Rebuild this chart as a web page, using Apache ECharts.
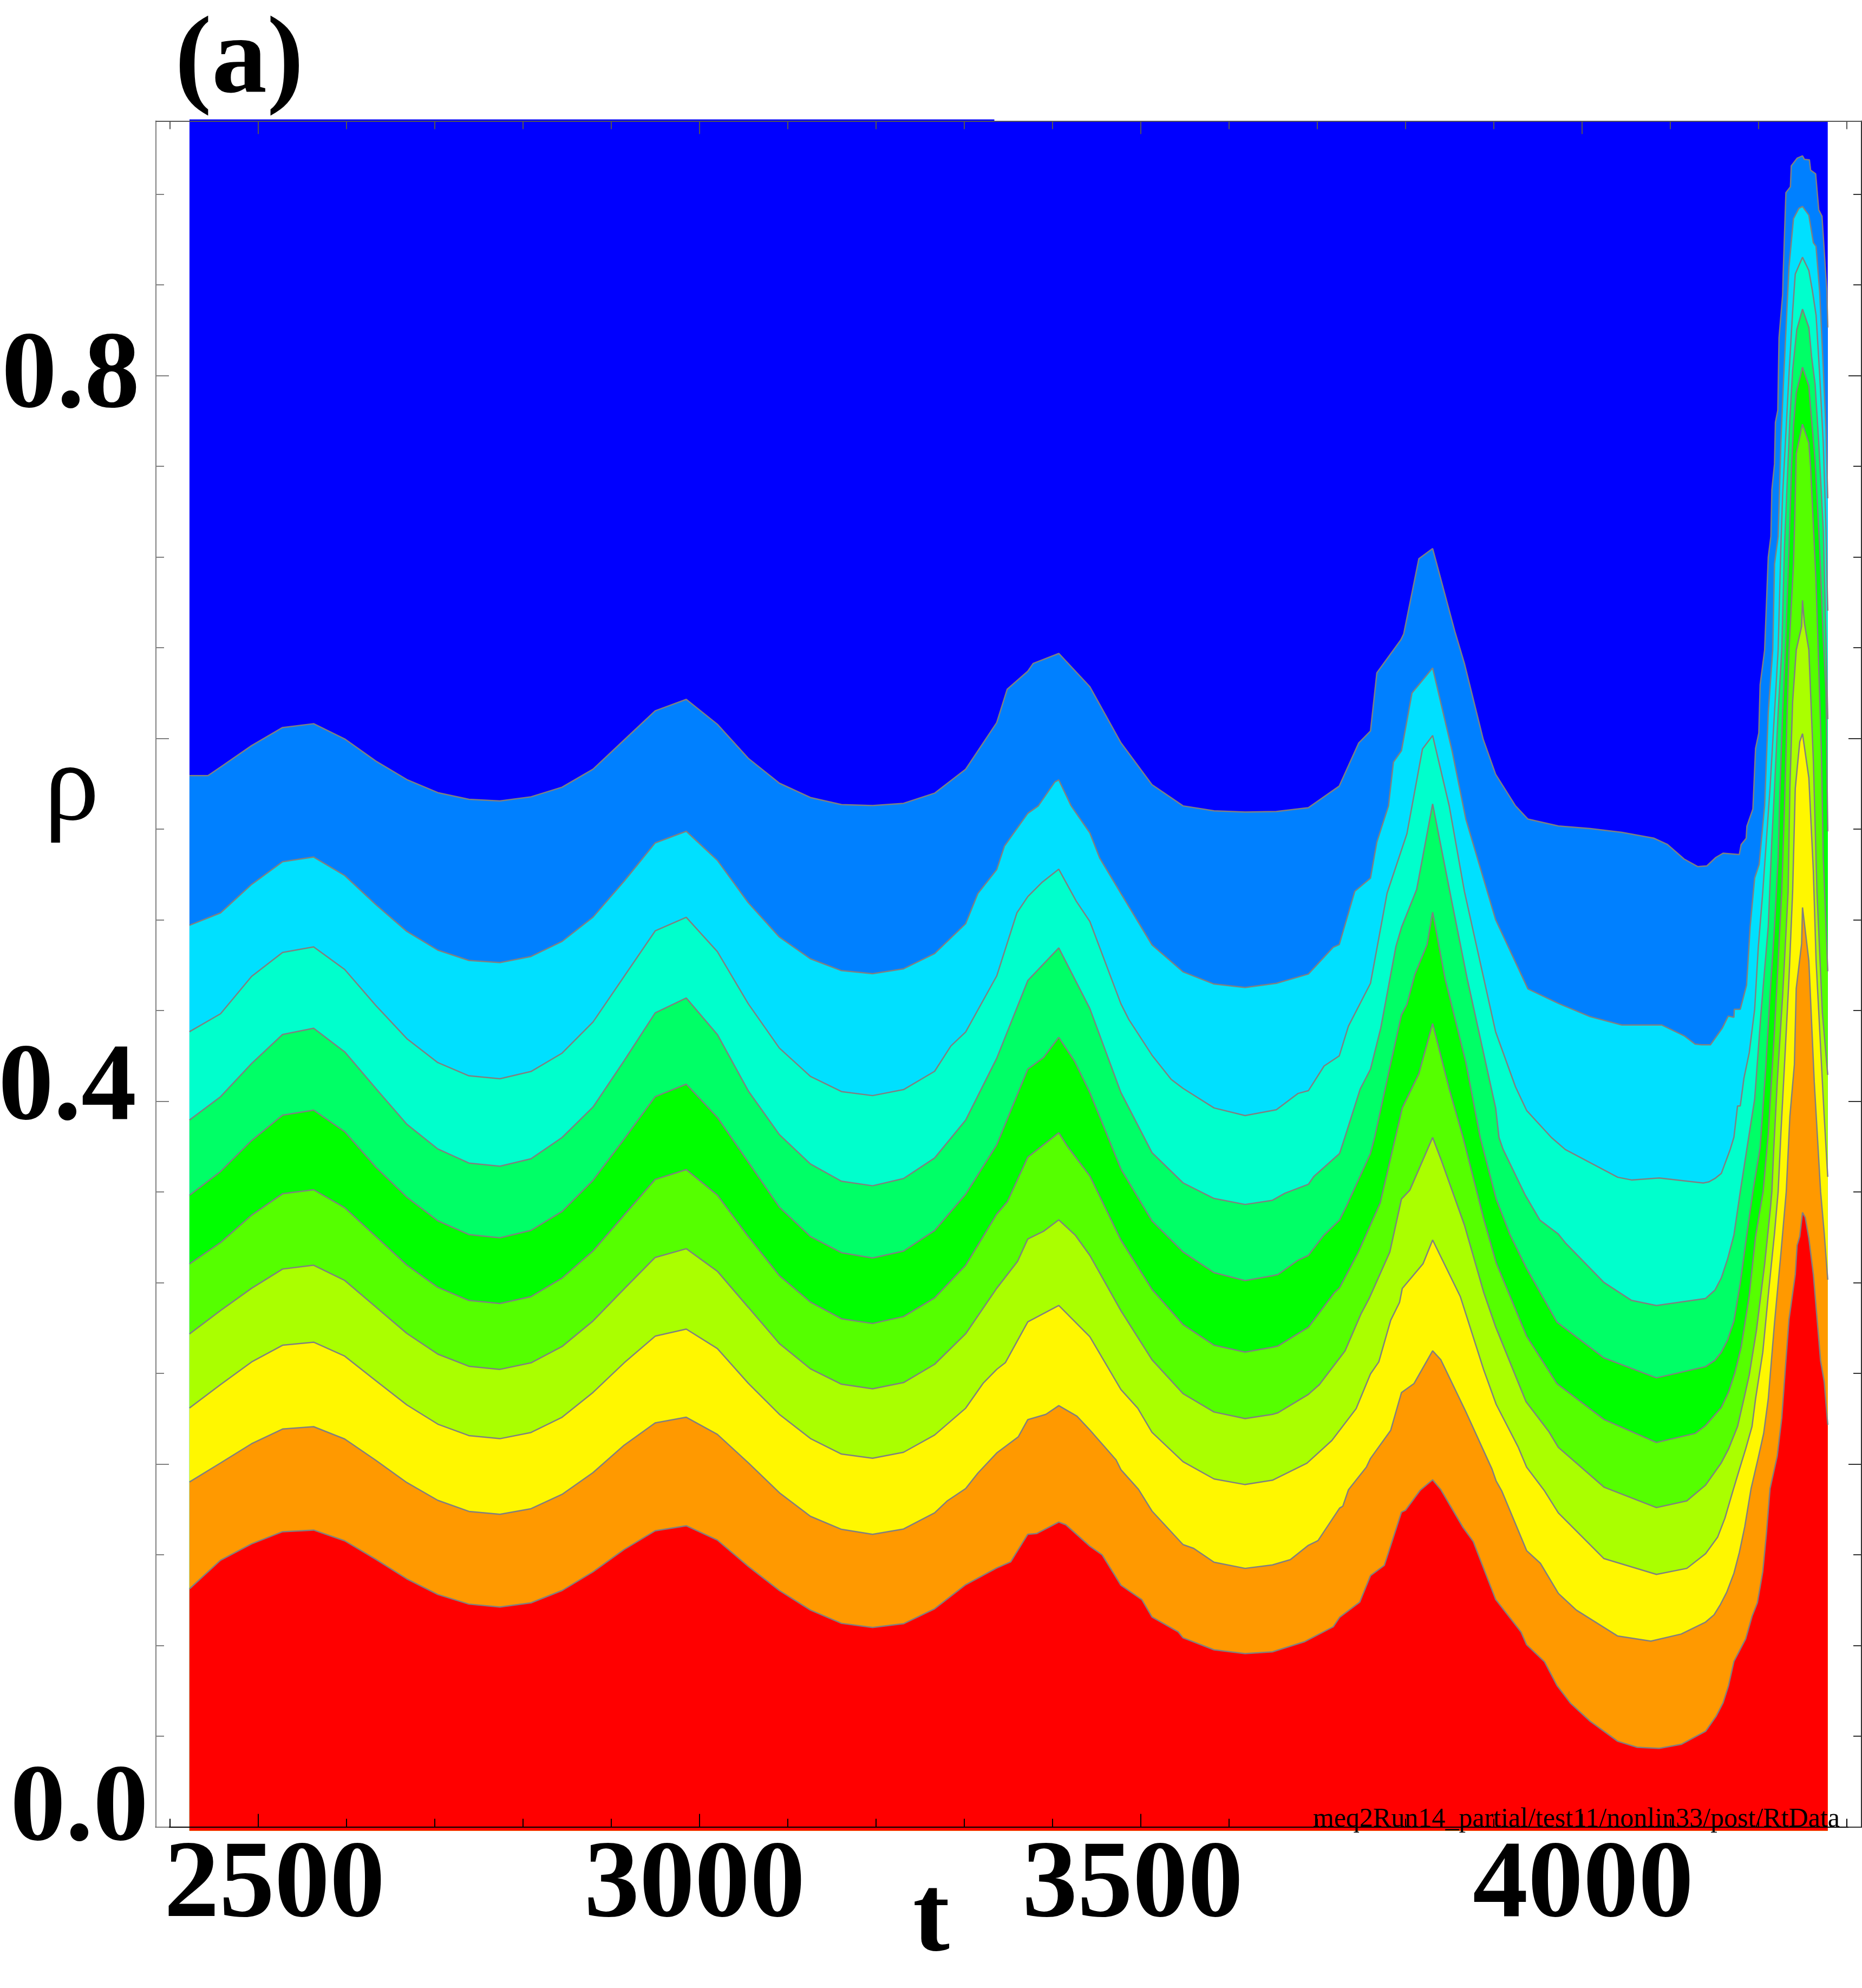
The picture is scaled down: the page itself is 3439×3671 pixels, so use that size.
<!DOCTYPE html>
<html><head><meta charset="utf-8">
<style>html,body{margin:0;padding:0;background:#fff}#c{width:3439px;height:3671px}</style>
<script src="https://cdn.jsdelivr.net/npm/echarts@6/dist/echarts.min.js"></script>
</head><body><div id="c"></div>
<script>
const tGrid=[2422.0,2457.2,2492.4,2527.5,2562.7,2597.9,2633.1,2668.3,2703.4,2738.6,2773.8,2809.0,2844.2,2879.3,2914.5,2949.7,2984.9,3020.1,3055.2,3090.4,3125.6,3160.8,3196.0,3231.1,3266.3,3301.5,3336.7,3371.9,3407.0,3442.2,3477.4,3512.6,3547.8,3582.9,3618.1];
const rho1=[.5795,.5842,.5960,.6060,.6081,.5997,.5875,.5773,.5701,.5664,.5655,.5678,.5731,.5830,.5991,.6152,.6215,.6078,.5890,.5753,.5674,.5635,.5630,.5642,.5698,.5830,.6087,.6370,.6468,.6285,.5976,.5745,.5628,.5601,.5594];
const rho2=[.4970,.5038,.5195,.5320,.5346,.5244,.5084,.4936,.4833,.4776,.4764,.4798,.4881,.5015,.5213,.5424,.5488,.5328,.5094,.4905,.4785,.4720,.4703,.4730,.4814,.4979,.5277,.5587,.5771,.5479,.5145,.4862,.4713,.4646,.4627];
const rho3=[.4383,.4482,.4688,.4820,.4851,.4726,.4528,.4345,.4213,.4140,.4124,.4164,.4265,.4437,.4688,.4939,.5014,.4825,.4537,.4293,.4137,.4053,.4031,.4064,.4165,.4382,.4691,.5128,.5279,.4991,.4537,.4254,.4071,.3963,.3921];
const rho4=[.3896,.4025,.4208,.4368,.4402,.4272,.4071,.3873,.3737,.3659,.3642,.3683,.3800,.3968,.4223,.4487,.4569,.4368,.4057,.3816,.3654,.3559,.3534,.3574,.3687,.3896,.4237,.4665,.4845,.4511,.4048,.3717,.3550,.3464,.3431];
const rho5=[.3481,.3612,.3783,.3923,.3951,.3832,.3637,.3471,.3341,.3265,.3247,.3288,.3392,.3564,.3791,.4025,.4094,.3911,.3664,.3416,.3254,.3165,.3136,.3174,.3287,.3487,.3759,.4177,.4352,.4048,.3626,.3340,.3169,.3055,.3011];
const rho6=[.3103,.3221,.3372,.3490,.3512,.3413,.3255,.3097,.2974,.2902,.2885,.2923,.3025,.3175,.3372,.3569,.3623,.3483,.3254,.3039,.2893,.2801,.2775,.2813,.2916,.3096,.3378,.3692,.3826,.3588,.3235,.2963,.2769,.2655,.2617];
const rho7=[.2717,.2846,.2969,.3075,.3096,.3012,.2866,.2720,.2606,.2539,.2522,.2558,.2648,.2789,.2965,.3139,.3187,.3063,.2864,.2664,.2525,.2440,.2415,.2449,.2550,.2718,.2969,.3241,.3346,.3150,.2845,.2575,.2388,.2287,.2251];
const rho8=[.2309,.2438,.2563,.2655,.2672,.2595,.2460,.2326,.2220,.2157,.2140,.2174,.2258,.2395,.2558,.2705,.2744,.2637,.2445,.2274,.2141,.2055,.2032,.2065,.2160,.2308,.2522,.2784,.2874,.2702,.2411,.2175,.2013,.1918,.1887];
const rho9=[.1901,.2006,.2112,.2193,.2206,.2138,.2021,.1898,.1800,.1739,.1723,.1754,.1833,.1953,.2104,.2227,.2258,.2164,.2007,.1842,.1712,.1640,.1613,.1642,.1731,.1865,.2061,.2245,.2322,.2188,.1969,.1741,.1556,.1459,.1425];
const rho10=[.1312,.1470,.1560,.1627,.1636,.1577,.1475,.1367,.1281,.1228,.1212,.1235,.1303,.1406,.1529,.1632,.1660,.1581,.1436,.1303,.1195,.1122,.1099,.1120,.1202,.1335,.1427,.1613,.1680,.1547,.1332,.1157,.1042,.0976,.0955];

const detail1=[[2443,.5795],[3348.6,.6271],[3378,.6413],[3653.5,.5597],[3689.8,.5618],[3724.8,.5737],[3746.8,.5974],[3760.2,.6041],[3767.4,.6361],[3794.6,.6543],[3797.8,.6575],[3815,.6990],[3830.6,.7046],[3855.7,.6591],[3866.6,.6413],[3887.9,.5995],[3902,.5802],[3924.5,.5628],[3938.6,.5555],[3973.1,.5517],[4009.1,.5503],[4045,.5482],[4081.1,.5450],[4096.7,.5415],[4115.5,.5335],[4131.1,.5293],[4141.3,.5297],[4151.6,.5344],[4159.7,.5367],[4178.1,.5360],[4180.2,.5415],[4185.9,.5449],[4186.7,.5516],[4193.5,.5611],[4196.5,.5944],[4200.2,.6030],[4201.7,.6296],[4206.8,.6487],[4210.9,.6999],[4213.9,.7114],[4215,.7371],[4218,.7513],[4219,.7742],[4221.7,.7808],[4223.1,.8208],[4227.2,.8446],[4227.8,.8560],[4230.9,.9008],[4236,.9040],[4237,.9156],[4243.6,.9198],[4249.7,.9211],[4251.8,.9192],[4257.5,.9189],[4258.9,.9132],[4264.6,.9112],[4268.1,.8913],[4271.8,.8878],[4277.3,.8465],[4278.3,.8265]];
const detail2=[[3315.3,.5145],[3345.5,.5407],[3383.8,.5628],[3402.6,.5760],[3421,.5628],[3453.5,.5339],[3653.5,.4650],[3689.8,.4701],[3718,.4849],[3724.8,.4864],[3742.4,.5157],[3760.2,.5230],[3767.4,.5429],[3780.6,.5628],[3786.2,.5869],[3795.3,.5932],[3807.2,.6250],[3830.6,.6388],[3852.6,.5932],[3868.2,.5555],[3902,.5000],[3938.6,.4619],[3973.1,.4539],[4009.1,.4466],[4045,.4420],[4090.4,.4420],[4115.5,.4361],[4128,.4315],[4135.2,.4311],[4145.4,.4311],[4158.7,.4402],[4165.5,.4469],[4172,.4463],[4172.4,.4507],[4179.2,.4507],[4186.3,.4640],[4190.4,.4963],[4195.5,.5230],[4200.6,.5306],[4206.8,.5630],[4210.9,.6144],[4216,.6487],[4218,.6961],[4222.1,.7113],[4225.2,.7628],[4228.2,.7970],[4232.3,.8389],[4234.4,.8598],[4239.5,.8865],[4245.6,.8922],[4249.7,.8932],[4256.9,.8884],[4262,.8732],[4265,.8713],[4269.1,.8465],[4273.2,.8046],[4276.3,.7704],[4278.3,.7323]];
const detail3=[[3284.8,.4305],[3359.6,.5039],[3387.7,.5205],[3426.9,.5102],[3486.3,.4451],[3534.4,.4120],[3653.5,.3953],[3678.2,.4043],[3689.8,.4058],[3707.6,.4194],[3724.8,.4250],[3735.2,.4414],[3760.2,.4650],[3779,.5147],[3801.5,.5475],[3819.1,.5942],[3830.6,.6016],[3849.4,.5628],[3866.6,.5157],[3902,.4382],[3924.5,.4079],[3937.1,.3949],[3965.2,.3800],[3980.9,.3734],[4040.3,.3581],[4056,.3566],[4087.3,.3577],[4137.2,.3549],[4143.4,.3555],[4150.5,.3574],[4157.7,.3602],[4167.9,.3736],[4172,.3802],[4176.1,.3974],[4179.2,.3974],[4183.3,.4126],[4189.4,.4269],[4195.5,.4507],[4199.6,.4849],[4204.7,.5154],[4212.9,.5725],[4218,.6144],[4222.1,.6487],[4225.2,.7056],[4227.2,.7342],[4230.3,.7628],[4234.4,.8008],[4238.5,.8351],[4241.5,.8560],[4249.7,.8652],[4256.9,.8579],[4261,.8465],[4265.1,.8332],[4269.1,.8008],[4273.2,.7628],[4276.3,.7152],[4278.3,.6704]];
const detail4=[[3649.1,.3454],[3663.2,.3493],[3689.8,.3542],[3696,.3585],[3725.2,.3712],[3731.1,.3800],[3748.6,.4068],[3760.2,.4177],[3771.8,.4403],[3789,.4853],[3795.3,.4958],[3812.5,.5167],[3830.6,.5639],[3852.6,.5094],[3869.8,.4675],[3902,.3963],[3905.8,.3800],[3910.5,.3734],[3935.5,.3483],[3952.1,.3345],[3973,.3268],[3980.9,.3220],[4024.7,.3001],[4056,.2902],[4084.2,.2874],[4139.9,.2913],[4150.5,.2959],[4157.7,.3026],[4164.8,.3130],[4172,.3263],[4179.2,.3502],[4186.3,.3726],[4195.5,.4012],[4202.7,.4488],[4210.9,.4964],[4215,.5440],[4218,.5725],[4222.1,.6144],[4226.2,.6487],[4229.3,.7056],[4233.4,.7532],[4235.4,.7761],[4238.5,.8027],[4243.2,.8252],[4249.7,.8366],[4256.9,.8265],[4260,.8104],[4264,.7951],[4268.1,.7628],[4273.2,.7152],[4276.3,.6546],[4278.3,.6106]];
const detail5=[[3389.7,.4240],[3424.9,.4220],[3649.1,.3038],[3655.4,.3045],[3677.3,.3121],[3689.8,.3150],[3707,.3259],[3725.2,.3345],[3733.6,.3428],[3760.2,.3712],[3764.9,.3800],[3780.6,.4152],[3795.3,.4476],[3801.5,.4533],[3810.3,.4696],[3824.4,.4864],[3830.6,.5042],[3844.7,.4675],[3868.2,.4215],[3884.5,.3800],[3902.6,.3461],[3918.3,.3264],[3937.1,.3078],[3971.5,.2782],[4024.7,.2585],[4084.2,.2475],[4139.9,.2537],[4150.5,.2572],[4157.7,.2616],[4164.8,.2683],[4172,.2788],[4179.2,.2997],[4186.3,.3254],[4193.5,.3502],[4201.7,.3745],[4207.8,.4164],[4212.9,.4583],[4218,.4964],[4222.1,.5344],[4224.2,.5725],[4227.2,.6144],[4230.3,.6487],[4234.4,.7056],[4237.4,.7513],[4239.5,.7723],[4242.6,.7904],[4249.7,.8046],[4256.9,.7942],[4258.9,.7818],[4264,.7532],[4269.1,.7056],[4273.2,.6546],[4276.3,.6258],[4278.3,.5487]];
const detail6=[[3348.6,.3445],[3417.1,.3749],[3649.1,.2644],[3655.4,.2651],[3689.8,.2754],[3719.5,.2946],[3725.2,.2972],[3746.1,.3165],[3771.2,.3439],[3788.4,.3800],[3796.2,.3963],[3815,.4152],[3830.6,.4428],[3849.4,.4068],[3865.1,.3800],[3888.5,.3351],[3902.6,.3110],[3937.1,.2705],[3971.5,.2443],[4024.7,.2246],[4084.2,.2119],[4128,.2169],[4139.9,.2213],[4157.7,.2312],[4165.9,.2397],[4173,.2502],[4180.2,.2645],[4189.4,.2930],[4196.5,.3254],[4205.1,.3502],[4210.9,.3821],[4218,.4392],[4221.1,.4678],[4226.2,.5154],[4229.3,.5630],[4232.3,.6144],[4234.4,.6487],[4239.5,.6961],[4241.1,.7247],[4242.6,.7570],[4249.7,.7732],[4256.9,.7628],[4258.9,.7494],[4265,.6866],[4267.1,.6546],[4271.2,.5915],[4273.2,.5344],[4278.3,.4716]];
const detail7=[[3360.3,.3117],[3389.7,.3283],[3426,.3260],[3649.1,.2274],[3655.4,.2283],[3689.8,.2384],[3702.3,.2438],[3731.4,.2624],[3749.3,.2826],[3758.7,.2913],[3782.1,.3169],[3795.3,.3461],[3804.7,.3509],[3830.6,.3800],[3840,.3680],[3866.6,.3318],[3888.5,.2946],[3902,.2756],[3936.4,.2344],[3962.1,.2180],[3973,.2092],[4024.7,.1873],[4084.2,.1760],[4118.6,.1797],[4139.9,.1884],[4157.7,.2007],[4165.9,.2083],[4176.1,.2207],[4183.3,.2359],[4189.4,.2492],[4197.6,.2740],[4206.8,.3102],[4213.3,.3406],[4215,.3502],[4217,.3726],[4221.1,.4107],[4227.2,.4583],[4233.4,.5154],[4235.4,.5725],[4238.5,.6201],[4242.6,.6487],[4248.7,.6618],[4249.7,.6761],[4251.8,.6638],[4256.9,.6487],[4262,.5877],[4266.1,.5154],[4272.2,.4488],[4278.3,.4145]];
const detail8=[[3321.2,.2445],[3346.6,.2560],[3496.5,.2308],[3649.1,.1911],[3688.2,.2005],[3716.4,.2130],[3743.9,.2305],[3760.2,.2497],[3769.6,.2563],[3783.1,.2793],[3793.1,.2891],[3796.2,.2968],[3819.7,.3104],[3830.6,.3235],[3861.9,.2924],[3888.5,.2519],[3902.6,.2329],[3927.7,.2092],[3937.1,.1983],[3957.4,.1852],[3973,.1731],[4024.7,.1479],[4084.2,.1392],[4118.6,.1425],[4139.9,.1506],[4153.6,.1598],[4161.8,.1702],[4171,.1855],[4178.1,.1969],[4185.3,.2083],[4192.5,.2207],[4196.5,.2359],[4204.7,.2616],[4210.9,.2930],[4218,.3273],[4222.1,.3502],[4225.2,.3821],[4229.3,.4202],[4234.4,.4678],[4238.5,.5154],[4241.5,.5725],[4246.6,.5982],[4249.7,.6026],[4256.9,.5782],[4262,.5268],[4265.1,.4773],[4270.2,.4297],[4274.3,.3916],[4278.3,.3583]];
const detail9=[[3280.9,.1798],[3315.3,.1950],[3361.1,.2150],[3392.4,.2274],[3427.6,.2264],[3471.9,.2023],[3497.3,.1861],[3559.9,.1535],[3649.1,.1444],[3669.4,.1473],[3689.8,.1552],[3700.7,.1578],[3725.2,.1757],[3728.9,.1768],[3735.2,.1858],[3755.5,.1983],[3760.2,.2031],[3783.1,.2186],[3795.3,.2394],[3809.4,.2443],[3830.6,.2624],[3840,.2574],[3868.2,.2289],[3897.9,.1972],[3902.6,.1906],[3908.9,.1852],[3937.1,.1523],[3952.7,.1453],[3973.1,.1287],[3993.4,.1195],[4040.3,.1052],[4077.9,.1024],[4112.3,.1063],[4139.9,.1129],[4149.5,.1169],[4156.7,.1226],[4163.8,.1293],[4172,.1398],[4178.1,.1512],[4184.3,.1655],[4191.4,.1864],[4199.6,.2036],[4205.7,.2169],[4210.9,.2359],[4218,.2778],[4225.2,.3159],[4231.3,.3502],[4235.4,.3916],[4240.5,.4202],[4242.6,.4621],[4248.7,.4868],[4249.7,.5068],[4256.9,.4773],[4263,.4107],[4270.2,.3501],[4274.3,.3273],[4278.3,.3016]];
const detail10=[[3352.5,.1461],[3381.9,.1617],[3415.1,.1665],[3456.2,.1499],[3501.2,.1252],[3542.3,.1075],[3649.1,.0965],[3685.1,.1020],[3718,.1103],[3725.2,.1155],[3748,.1239],[3760.2,.1385],[3775.9,.1442],[3795.3,.1735],[3800,.1746],[3816.6,.1856],[3830.6,.1913],[3840,.1858],[3865.1,.1650],[3876.6,.1573],[3902,.1254],[3930.8,.1074],[3937.1,.1004],[3957.4,.0910],[3971.5,.0779],[3987.1,.0680],[4009.1,.0582],[4040.3,.0472],[4062.3,.0439],[4087.3,.0433],[4112.3,.0455],[4139.9,.0527],[4151.6,.0608],[4159.7,.0684],[4165.9,.0779],[4172,.0912],[4185.3,.1036],[4192.5,.1160],[4198.6,.1236],[4204.7,.1407],[4208.8,.1617],[4212.9,.1864],[4221.1,.2045],[4226.2,.2254],[4230.3,.2531],[4234.4,.2797],[4241.5,.3045],[4243.6,.3206],[4246.6,.3254],[4249.7,.3387],[4252.8,.3359],[4256.9,.3244],[4262,.3045],[4270.2,.2569],[4274.3,.2454],[4278.3,.2216]];
const topEdge=[[2422,.9412],[3334,.9412],[3334,.9403],[4278.3,.9403]];

const bandColors=['#0080ff','#00e0ff','#00ffcc','#00ff66','#00ff00','#55ff00','#aaff00','#fff700','#ff9900','#ff0000'];
const rhos=[rho1,rho2,rho3,rho4,rho5,rho6,rho7,rho8,rho9,rho10];
const details=[detail1,detail2,detail3,detail4,detail5,detail6,detail7,detail8,detail9,detail10];

const xMajor=[2500,3000,3500,4000];
const xMinor=[2400,2600,2700,2800,2900,3100,3200,3300,3400,3600,3700,3800,3900,4100,4200,4300];
const yMajor=[0,0.2,0.4,0.6,0.8];
const yMinor=[0.05,0.1,0.15,0.25,0.3,0.35,0.45,0.5,0.55,0.65,0.7,0.75,0.85,0.9];
const xLabels=[2500,3000,3500,4000];
const yLabels=[0,0.4,0.8];
const xRange=[2384,4316.5], yRange=[0,0.9403], fillFloor=-0.0021;
const SERIF='"Liberation Serif"', BIG=204;

const bold={fontFamily:SERIF,fontWeight:'bold',fontSize:BIG,color:'#000',lineHeight:BIG};
const xRich={a2500:{...bold,padding:[0,0,0,60]},a3000:{...bold,padding:[0,18,0,0]},a3500:{...bold,padding:[0,30,0,0]},a4000:{...bold,padding:[0,0,0,4]}};
const yRich={a0:{...bold,padding:[0,0,58,0]},a04:{...bold,padding:[0,22,40,0]},a08:{...bold,padding:[10,16,0,0]}};

function xAx(pos,vals,len,color,labels,line){return {type:'value',position:pos,min:xRange[0],max:xRange[1],z:10,splitLine:{show:false},
  axisLine:{show:line,onZero:false,lineStyle:{color,width:2}},
  axisTick:{show:true,inside:true,length:len,customValues:vals,lineStyle:{color,width:2}},
  axisLabel:labels?{show:true,margin:10,customValues:xLabels,fontFamily:SERIF,fontWeight:'bold',fontSize:BIG,color:'#000',formatter:v=>`{a${v}|${v}}`,rich:xRich}:{show:false}};}
function yAx(pos,vals,len,color,labels,line){return {type:'value',position:pos,min:yRange[0],max:yRange[1],z:10,splitLine:{show:false},
  axisLine:{show:line,onZero:false,lineStyle:{color,width:2}},
  axisTick:{show:true,inside:true,length:len,customValues:vals,lineStyle:{color,width:2}},
  axisLabel:labels?{show:true,margin:14,customValues:yLabels,fontFamily:SERIF,fontWeight:'bold',fontSize:BIG,color:'#000',
    formatter:v=>`{a${String(v).replace('.','')}|${v.toFixed(1)}}`,rich:yRich}:{show:false}};}

const xAxes=[xAx('bottom',xMajor,24,'#000',true,true),xAx('bottom',xMinor,15,'#000',false,false),xAx('top',xMajor,24,'#555',false,true),xAx('top',xMinor,15,'#555',false,false)];
xAxes[0].name='t';xAxes[0].nameLocation='middle';xAxes[0].nameGap=73;xAxes[0].nameMoveOverlap=false;
xAxes[0].nameTextStyle={fontFamily:SERIF,fontWeight:'bold',fontSize:BIG,color:'#000',padding:[0,286,0,0]};
const yAxes=[yAx('left',yMajor,24,'#808080',true,true),yAx('left',yMinor,15,'#808080',false,false),yAx('right',yMajor,24,'#333',false,true),yAx('right',yMinor,15,'#333',false,false)];
yAxes[0].name='{r|ρ}';yAxes[0].nameLocation='middle';yAxes[0].nameGap=105;yAxes[0].nameRotate=0;yAxes[0].nameMoveOverlap=false;
yAxes[0].nameTextStyle={fontFamily:SERIF,fontSize:BIG,color:'#000',rich:{r:{fontFamily:SERIF,fontSize:BIG,color:'#000',lineHeight:BIG,padding:[0,0,678,0]}}};

const lineBase={type:'line',xAxisIndex:0,yAxisIndex:0,showSymbol:false,symbol:'none',clip:false,smooth:false,silent:true,animation:false};
const series=[{...lineBase,name:'above',data:topEdge,lineStyle:{opacity:0,width:0},areaStyle:{color:'#0000ff',opacity:1,origin:fillFloor}}];
rhos.forEach((r,i)=>{
  const pts=tGrid.map((t,j)=>[t,r[j]]).concat(details[i]).sort((a,b)=>a[0]-b[0]);
  series.push({...lineBase,name:'band'+(i+1),data:pts,lineStyle:{color:'#808080',width:2.5},areaStyle:{color:bandColors[i],opacity:1,origin:fillFloor}});
});

const chart=echarts.init(document.getElementById('c'),null,{width:3439,height:3671});
chart.setOption({
  animation:false,backgroundColor:'#fff',
  title:{text:'(a)',left:318,top:10,textStyle:{fontFamily:SERIF,fontWeight:'bold',fontSize:BIG,color:'#000'}},
  grid:{left:288,right:1,top:223.5,bottom:297.5,containLabel:false,outerBoundsMode:'none'},
  xAxis:xAxes,yAxis:yAxes,series,
  graphic:[{type:'text',left:2425,top:3335,z:100,style:{text:'meq2Run14_partial/test11/nonlin33/post/RtData',fontFamily:SERIF,fontSize:50,fill:'#000'}}]
});
</script></body></html>
